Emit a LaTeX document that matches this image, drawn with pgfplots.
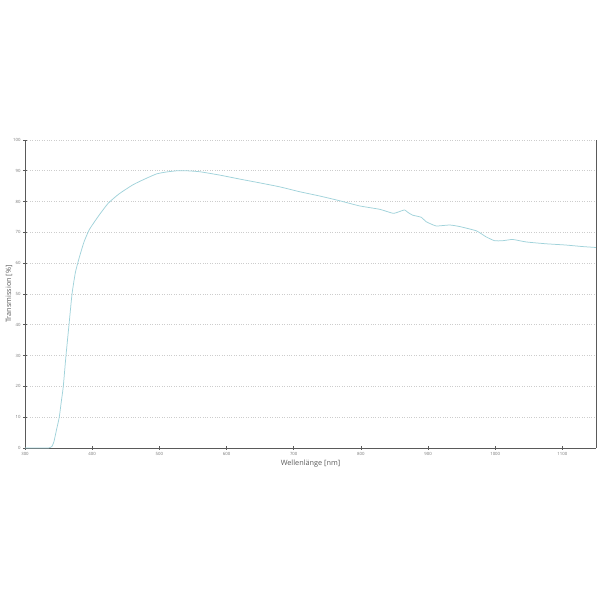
\documentclass[border=0pt]{standalone}
\usepackage{pgfplots}
\pgfplotsset{compat=1.18}
\usepackage{fontspec}
\setmainfont{Open Sans}
\definecolor{curve}{RGB}{160,210,218}
\definecolor{axisgray}{RGB}{90,90,90}
\definecolor{gridgray}{RGB}{205,205,205}
\definecolor{ticklab}{RGB}{120,120,120}
\begin{document}
\begin{tikzpicture}[x=1pt,y=1pt]
\useasboundingbox (0,0) rectangle (600,600);
\begin{axis}[
  at={(25pt,152pt)}, anchor=origin,
  scale only axis, width=571pt, height=308pt,
  xmin=300, xmax=1150, ymin=0, ymax=100,
  axis lines*=left,
  axis line style={axisgray, line width=0.9pt, -},
  xtick={300,400,...,1100}, ytick={0,10,...,100},
  major tick length=4pt,
  tick style={axisgray, line width=0.6pt},
  xtick align=center, ytick align=center,
  ymajorgrids, grid style={gridgray, dotted, line width=0.6pt},
  tick label style={font=\fontsize{4.3}{5}\selectfont, text=ticklab},
  /pgf/number format/assume math mode=true,
  /pgf/number format/1000 sep={},
  xticklabel style={yshift=1pt},
  yticklabel style={xshift=1pt},
  xlabel={Wellenlänge [nm]}, ylabel={Transmission [\%]},
  label style={font=\fontsize{7.3}{8}\selectfont, text=axisgray},
  xlabel style={yshift=3pt},
  ylabel style={yshift=-6pt},
  clip=false,
]
\addplot[curve, line width=0.75pt, smooth, tension=0.3] coordinates {
(300,0) (320,0) (335,0) (340,0.5) (343,2) (347,6) (351,10) (354,15) (357,20)
(361,30) (365.5,40) (370,50) (375,57) (381,62) (388,67) (396,71) (410,75.5)
(424,79.5) (440,82.5) (461,85.5) (480,87.5) (496,89) (510,89.6) (526,90)
(541,90) (560,89.7) (590,88.6) (620,87.3) (649,86.1) (679,84.8) (709,83.2)
(739,81.8) (768,80.3) (798,78.6) (828,77.5) (848,76.2) (858,76.8) (865,77.3)
(870,76.5) (877,75.6) (890,74.9) (897,73.5) (912,72.1) (932,72.4) (947,71.9)
(972,70.5) (986,68.6) (999,67.3) (1011,67.3) (1026,67.7) (1046,66.9)
(1076,66.3) (1105,65.9) (1130,65.4) (1150,65.1)
};
\draw[axisgray, line width=0.9pt] (rel axis cs:1,0) -- (rel axis cs:1,1);
\end{axis}
\end{tikzpicture}
\end{document}
